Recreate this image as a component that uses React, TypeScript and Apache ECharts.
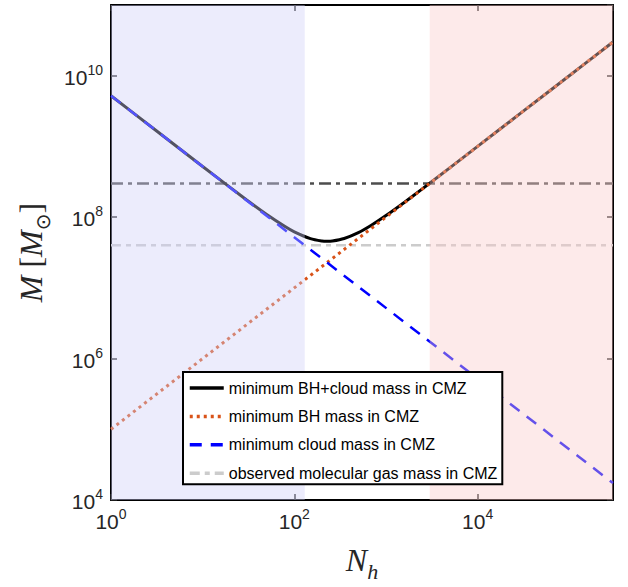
import React, { useEffect, useRef } from "react";
import * as echarts from "echarts";

// ---- data ----
const lineN = [1, 3e5];
const bhMass = [1e5, 3e10];
const cloudMass = [5.2e9, 1.733e4];
const totalN = [1, 3, 10, 30, 50, 80, 100, 150, 200, 228, 260, 350, 500, 700, 1000, 1500, 2000, 3000, 10000, 30000, 100000, 300000];
const totalMass = [5.2e9, 1.733e9, 5.21e8, 1.763e8, 1.09e8, 7.3e7, 6.2e7, 4.97e7, 4.6e7, 4.56e7, 4.6e7, 4.99e7, 6.04e7, 7.74e7, 1.052e8, 1.535e8, 2.026e8, 3.017e8, 1.0005e9, 3.0002e9, 1e10, 3e10];
const gasMass = 4e7;
const cmzMass = 3e8;
const blueRegion = [1, 130];
const redRegion = [3000, 3e5];
const xRange = [1, 3e5];
const yRange = [1e4, 1e11];
const legendNames = [
  "minimum BH+cloud mass in CMZ",
  "minimum BH mass in CMZ",
  "minimum cloud mass in CMZ",
  "observed molecular gas mass in CMZ",
];

const pairs = (xs: number[], ys: number[]) => xs.map((x, i) => [x, ys[i]]);
const flat = (v: number) => [[xRange[0], v], [xRange[1], v]];

const tickFormatter = (v: number) => {
  const l = Math.log10(v);
  const e = Math.round(l);
  if (Math.abs(l - e) > 1e-6 || e % 2 !== 0) return "";
  return `{b|10}{s|${e}}`;
};

const labelRich = {
  b: { fontSize: 21, fontFamily: "Liberation Sans", color: "#262626", verticalAlign: "bottom", lineHeight: 24 },
  s: { fontSize: 14, fontFamily: "Liberation Sans", color: "#262626", verticalAlign: "bottom", lineHeight: 24, padding: [0, 0, 11, 0] },
};

const axisLine = { show: true, onZero: false, lineStyle: { color: "#000", width: 2 } };
const axisTick = { show: true, inside: true, length: 6, lineStyle: { color: "#262626", width: 1.5 } };

export default function App() {
  const ref = useRef<HTMLDivElement>(null);
  useEffect(() => {
    if (!ref.current) return;
    const chart = echarts.init(ref.current, null, { renderer: "svg" });
    const baseX = { type: "log", logBase: 100, min: xRange[0], max: xRange[1], splitLine: { show: false }, minorTick: { show: false }, axisLine, axisTick };
    const baseY = { type: "log", logBase: 100, min: yRange[0], max: yRange[1], splitLine: { show: false }, minorTick: { show: false }, axisLine, axisTick };
    chart.setOption({
      animation: false,
      backgroundColor: "#fff",
      grid: { left: 111, right: 15, top: 5, bottom: 83, containLabel: false },
      xAxis: [
        {
          ...baseX,
          position: "bottom",
          axisLabel: { show: true, margin: 8, formatter: tickFormatter, rich: labelRich, showMaxLabel: false },
          name: "{i|N}{sub|h}",
          nameLocation: "middle",
          nameGap: 42,
          nameTextStyle: {
            rich: {
              i: { fontSize: 32, fontFamily: "Liberation Serif", fontStyle: "italic", color: "#262626", verticalAlign: "bottom", lineHeight: 34 },
              sub: { fontSize: 22, fontFamily: "Liberation Serif", fontStyle: "italic", color: "#262626", verticalAlign: "bottom", lineHeight: 34, padding: [0, 0, -6, 0] },
            },
          },
        },
        { ...baseX, position: "top", axisLabel: { show: false } },
      ],
      yAxis: [
        {
          ...baseY,
          position: "left",
          axisLabel: { show: true, margin: 8, formatter: tickFormatter, rich: labelRich, showMaxLabel: false },
          name: "{i|M}{r| [}{i|M}{sub|⊙}{r|]}",
          nameLocation: "middle",
          nameRotate: 90,
          nameGap: 62,
          nameTextStyle: {
            rich: {
              i: { fontSize: 32, fontFamily: "Liberation Serif", fontStyle: "italic", color: "#262626", verticalAlign: "bottom", lineHeight: 34 },
              r: { fontSize: 32, fontFamily: "Liberation Serif", color: "#262626", verticalAlign: "bottom", lineHeight: 34 },
              sub: { fontSize: 20, fontFamily: "DejaVu Sans", color: "#262626", verticalAlign: "bottom", lineHeight: 34, padding: [0, 0, -6, 0] },
            },
          },
        },
        { ...baseY, position: "right", axisLabel: { show: false } },
      ],
      legend: {
        data: legendNames,
        orient: "vertical",
        left: 183,
        top: 372,
        backgroundColor: "#fff",
        borderColor: "#000",
        borderWidth: 2,
        borderRadius: 0,
        padding: [8, 5, 3, 5],
        itemWidth: 34,
        itemHeight: 14,
        itemGap: 12.4,
        itemStyle: { opacity: 0 },
        lineStyle: { width: 3.5 },
        textStyle: { fontSize: 16, fontFamily: "Liberation Sans", color: "#000" },
        selectedMode: false,
        z: 6,
      },
      series: [
        {
          name: "observed CMZ limit",
          type: "line",
          data: flat(cmzMass),
          symbol: "none",
          lineStyle: { color: "#4d4d4d", width: 2.5, type: [12, 5, 4, 5] },
          itemStyle: { color: "#4d4d4d" },
          z: 2,
        },
        {
          name: legendNames[3],
          type: "line",
          data: flat(gasMass),
          symbol: "none",
          lineStyle: { color: "#cccccc", width: 2.5, type: [10, 5, 5, 5] },
          itemStyle: { color: "#cccccc" },
          z: 2,
        },
        {
          name: legendNames[0],
          type: "line",
          data: pairs(totalN, totalMass),
          symbol: "none",
          smooth: 0.3,
          lineStyle: { color: "#000", width: 3 },
          itemStyle: { color: "#000" },
          z: 2,
        },
        {
          name: legendNames[1],
          type: "line",
          data: pairs(lineN, bhMass),
          symbol: "none",
          lineStyle: { color: "#d95319", width: 3, type: [3, 4] },
          itemStyle: { color: "#d95319" },
          z: 2,
        },
        {
          name: legendNames[2],
          type: "line",
          data: pairs(lineN, cloudMass),
          symbol: "none",
          lineStyle: { color: "#0000ff", width: 2.5, type: [12, 9] },
          itemStyle: { color: "#0000ff" },
          z: 2,
        },
        {
          name: "shading",
          type: "line",
          data: [[xRange[0], yRange[0]]],
          symbol: "none",
          lineStyle: { opacity: 0 },
          z: 3,
          silent: true,
          markArea: {
            silent: true,
            z: 4,
            label: { show: false },
            data: [
              [
                { xAxis: blueRegion[0], itemStyle: { color: "rgba(207,207,248,0.40)", borderWidth: 0 } },
                { xAxis: blueRegion[1] },
              ],
              [
                { xAxis: redRegion[0], itemStyle: { color: "rgba(250,202,202,0.40)", borderWidth: 0 } },
                { xAxis: redRegion[1] },
              ],
            ],
          },
        },
      ],
    });
    return () => chart.dispose();
  }, []);
  return <div ref={ref} style={{ position: "fixed", left: 0, top: 0, width: 628, height: 587 }} />;
}
